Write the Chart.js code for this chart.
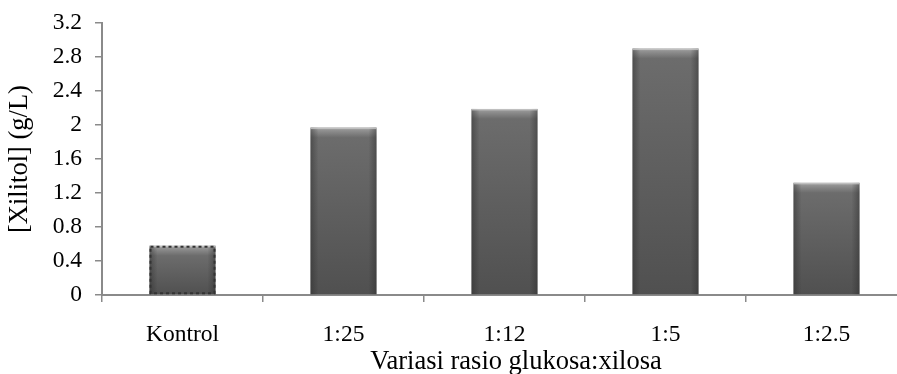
<!DOCTYPE html>
<html>
<head>
<meta charset="utf-8">
<script src="https://cdn.jsdelivr.net/npm/chart.js@4"></script>
<style>
html,body{margin:0;padding:0;background:#fff;overflow:hidden;}
#wrap{position:relative;width:910px;height:378px;margin-top:-4px;}
</style>
</head>
<body>
<div id="wrap"><canvas id="c"></canvas></div>
<script>
const categories = ["Kontrol", "1:25", "1:12", "1:5", "1:2.5"];
const xilitolValues = [0.58, 1.97, 2.19, 2.90, 1.32];
const yTicks = [0, 0.4, 0.8, 1.2, 1.6, 2, 2.4, 2.8, 3.2];
const yTitle = "[Xilitol] (g/L)";
const xTitle = "Variasi rasio glukosa:xilosa";

const FONT = "'Liberation Serif', 'Times New Roman', serif";

function barFill(ctx) {
  const chart = ctx.chart;
  const area = chart.chartArea;
  if (!area) return '#5e5e5e';
  const ys = chart.scales.y;
  const v = ctx.parsed ? ctx.parsed.y : 0;
  const top = ys.getPixelForValue(v);
  const bot = ys.getPixelForValue(0);
  const g = chart.ctx.createLinearGradient(0, top, 0, bot);
  const h = Math.max(bot - top, 1);
  const f = Math.min(10 / h, 0.4);
  g.addColorStop(0, '#a0a0a0');
  g.addColorStop(f * 0.5, '#858585');
  g.addColorStop(f, '#6c6c6c');
  g.addColorStop(1, '#505050');
  return g;
}

const bevel = {
  id: 'bevel',
  afterDatasetsDraw(chart) {
    const c = chart.ctx;
    const meta = chart.getDatasetMeta(0);
    meta.data.forEach((bar, i) => {
      const p = bar.getProps(['x', 'y', 'base', 'width'], true);
      const l = p.x - p.width / 2, r = p.x + p.width / 2;
      c.save();
      const gl = c.createLinearGradient(l, 0, l + 8, 0);
      gl.addColorStop(0, 'rgba(40,40,40,0.45)');
      gl.addColorStop(1, 'rgba(40,40,40,0)');
      c.fillStyle = gl;
      c.fillRect(l, p.y, 8, p.base - p.y);
      const gr = c.createLinearGradient(r - 8, 0, r, 0);
      gr.addColorStop(0, 'rgba(40,40,40,0)');
      gr.addColorStop(1, 'rgba(40,40,40,0.45)');
      c.fillStyle = gr;
      c.fillRect(r - 8, p.y, 8, p.base - p.y);
      c.fillStyle = 'rgba(200,200,200,0.8)';
      c.fillRect(l, p.y, p.width, 1.5);
      if (i === 0) {
        c.strokeStyle = '#333';
        c.lineWidth = 2;
        c.setLineDash([3, 3]);
        c.strokeRect(l + 1, p.y + 1, p.width - 2, p.base - p.y - 2);
      }
      c.restore();
    });
  }
};

const xTitlePlugin = {
  id: 'xTitlePlugin',
  afterDraw(chart) {
    const c = chart.ctx;
    const base = chart.scales.y.getPixelForValue(0);
    c.save();
    c.font = "26.5px " + FONT;
    c.fillStyle = '#000';
    c.textAlign = 'center';
    c.textBaseline = 'alphabetic';
    c.fillText(xTitle, 516, base + 74);
    c.restore();
  }
};

new Chart(document.getElementById('c'), {
  type: 'bar',
  data: {
    labels: categories,
    datasets: [{
      data: xilitolValues,
      backgroundColor: barFill,
      borderWidth: 0,
      categoryPercentage: 1,
      barPercentage: 0.41
    }]
  },
  options: {
    responsive: true,
    maintainAspectRatio: false,
    animation: false,
    layout: { padding: { top: 16, right: 3, left: 0, bottom: 0 } },
    plugins: { legend: { display: false }, tooltip: { enabled: false } },
    scales: {
      x: {
        offset: true,
        grid: { display: true, drawOnChartArea: false, drawTicks: true, tickLength: 7, color: '#8a8a8a', lineWidth: 1.5, offset: true },
        border: { display: true, color: '#8a8a8a', width: 2 },
        ticks: { color: '#000', font: { family: FONT, size: 23.5 }, padding: 19 },
        title: { display: false },
        afterFit(s) { s.height = 79; }
      },
      y: {
        min: 0, max: 3.2,
        afterBuildTicks(s) { s.ticks = yTicks.map(v => ({ value: v })); },
        grid: { display: true, drawOnChartArea: false, drawTicks: true, tickLength: 7, color: '#8a8a8a', lineWidth: 1.5 },
        border: { display: true, color: '#8a8a8a', width: 2 },
        ticks: { color: '#000', font: { family: FONT, size: 23.5 }, padding: 13, callback: (v) => String(v) },
        title: { display: true, text: yTitle, color: '#000', font: { family: FONT, size: 26.5 }, padding: { top: 4, bottom: 0 } },
        afterFit(s) { s.width = 102; }
      }
    }
  },
  plugins: [bevel, xTitlePlugin]
});
</script>
</body>
</html>
